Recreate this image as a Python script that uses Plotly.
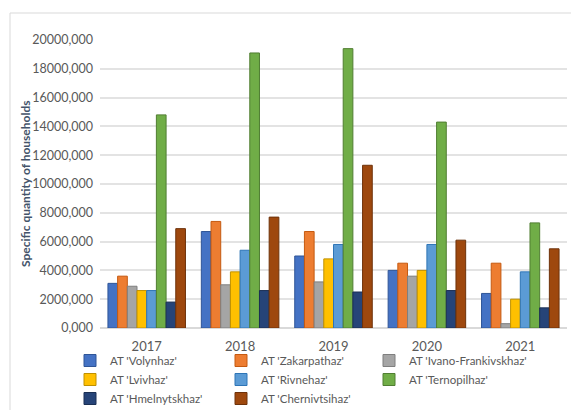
import plotly.graph_objects as go

years = ["2017", "2018", "2019", "2020", "2021"]
series_names = ["AT 'Volynhaz'", "AT 'Zakarpathaz'", "AT 'Ivano-Frankivskhaz'",
                "AT 'Lvivhaz'", "AT 'Rivnehaz'", "AT 'Ternopilhaz'",
                "AT 'Hmelnytskhaz'", "AT 'Chernivtsihaz'"]
volynhaz = [3100, 6700, 5000, 4000, 2400]
zakarpathaz = [3600, 7400, 6700, 4500, 4500]
ivano_frankivskhaz = [2900, 3000, 3200, 3600, 300]
lvivhaz = [2600, 3900, 4800, 4000, 2000]
rivnehaz = [2600, 5400, 5800, 5800, 3900]
ternopilhaz = [14800, 19100, 19400, 14300, 7300]
hmelnytskhaz = [1800, 2600, 2500, 2600, 1400]
chernivtsihaz = [6900, 7700, 11300, 6100, 5500]
series_values = [volynhaz, zakarpathaz, ivano_frankivskhaz, lvivhaz,
                 rivnehaz, ternopilhaz, hmelnytskhaz, chernivtsihaz]
colors = ["#4472C4", "#ED7D31", "#A5A5A5", "#FFC000",
          "#5B9BD5", "#70AD47", "#264478", "#9E480E"]
edge_colors = ["#2F5597", "#C55A11", "#7F7F7F", "#BF9000",
               "#2E75B6", "#507E32", "#1A2F54", "#6E320A"]
y_ticks = [0, 2000, 4000, 6000, 8000, 10000, 12000, 14000, 16000, 18000, 20000]
y_title = "Specific quantity of households"

# legend column for each series (legend reads row by row, 3 columns)
legend_ids = ["legend", "legend2", "legend3"]

fig = go.Figure()
for i, (name, vals, c, ec) in enumerate(zip(series_names, series_values, colors, edge_colors)):
    fig.add_trace(go.Bar(x=years, y=vals, name=name, legend=legend_ids[i % 3],
                         marker=dict(color=c, line=dict(color=ec, width=1))))

W, H = 571, 410
ml, mr, mt, mb = 100, 4, 40, 82


def leg(xpx):
    return dict(orientation="v", xref="container", yref="container",
                x=xpx / W, xanchor="left", y=1 - 346 / H, yanchor="top",
                font=dict(size=11.5, color="#595959"), itemwidth=30,
                tracegroupgap=0, bgcolor="rgba(0,0,0,0)")


fig.update_layout(
    width=W, height=H,
    margin=dict(l=ml, r=mr, t=mt, b=mb, autoexpand=False),
    paper_bgcolor="white", plot_bgcolor="white",
    separators=",.",
    font=dict(family="Lato, Calibri, sans-serif", size=12, color="#595959"),
    barmode="group", bargap=0.17, bargroupgap=0,
    showlegend=True,
    legend=leg(70), legend2=leg(221), legend3=leg(369),
    xaxis=dict(showgrid=False, showline=False, ticks="", ticklabelstandoff=9,
               tickfont=dict(size=13, color="#595959")),
    yaxis=dict(range=[0, 20000], tickvals=y_ticks, tickformat=".3f",
               showgrid=True, gridcolor="#E3E3E3", gridwidth=1.5,
               zeroline=True, zerolinecolor="#D9D9D9",
               ticklabelstandoff=6, tickfont=dict(size=12.5, color="#595959")),
)
fig.add_annotation(text="<b>" + y_title + "</b>", textangle=-90,
                   xref="paper", yref="paper",
                   x=(25 - ml) / (W - ml - mr), y=0.5, xanchor="center", yanchor="middle",
                   showarrow=False, font=dict(size=12, color="#44546A"))
pw = W - ml - mr
ph = H - mt - mb
fig.add_shape(type="rect", xref="paper", yref="paper",
              x0=(10 - ml) / pw, x1=(W + 5 - ml) / pw,
              y0=-(H + 5 - mt - ph) / ph, y1=1 + (mt - 13) / ph,
              line=dict(color="#D9D9D9", width=1), layer="below")
fig.write_html("out.html")
